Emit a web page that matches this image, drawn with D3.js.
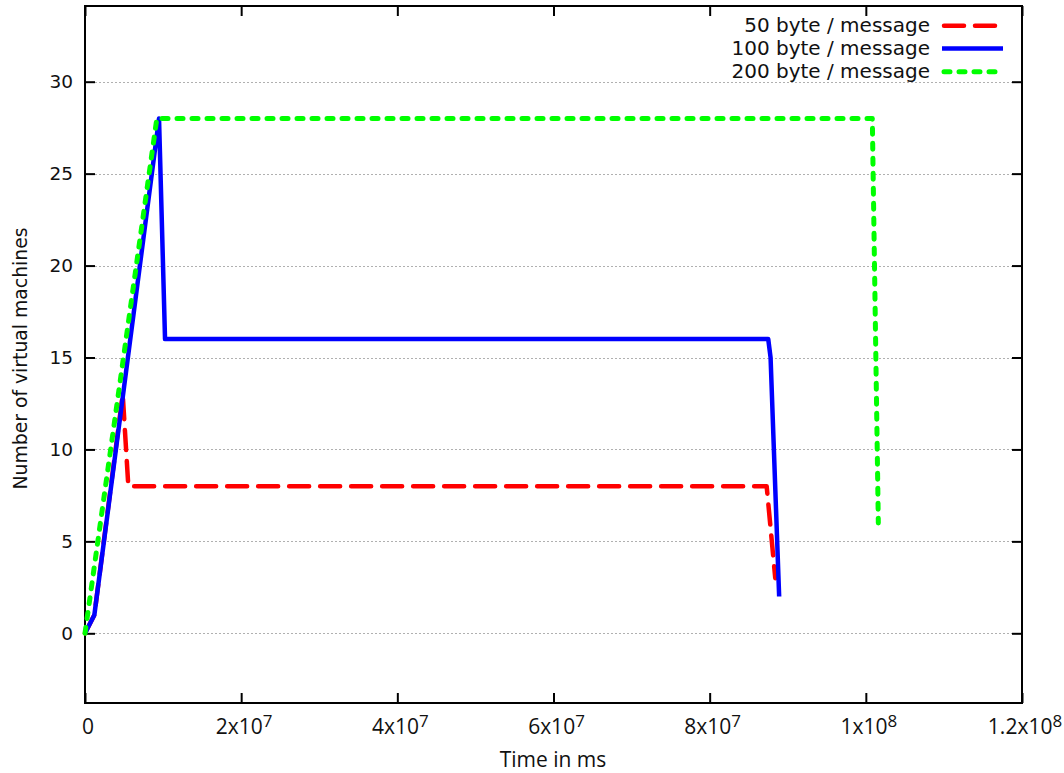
<!DOCTYPE html>
<html>
<head>
<meta charset="utf-8">
<script src="https://cdn.jsdelivr.net/npm/d3@7"></script>
<style>
  html, body { margin: 0; padding: 0; background: #fff; overflow: hidden; }
  svg { display: block; }
  .ytick { font-family: "DejaVu Sans", sans-serif; font-size: 18.5px; fill: #111; }
  .xtick { font-family: "Open Sans", "Noto Sans", sans-serif; font-size: 21px; fill: #111; }
  .legend { font-family: "DejaVu Sans", sans-serif; font-size: 20px; fill: #111; }
  .ylabel { font-family: "DejaVu Sans", sans-serif; font-size: 18.8px; fill: #111; }
  .xlabel { font-family: "Open Sans", "Noto Sans", sans-serif; font-size: 21px; fill: #111; }
</style>
</head>
<body>
<script>
// Time (ms) and number of running VMs for each message size
const time50  = [0, 1.2e6, 4.83e6, 5.55e6, 8.73e7, 8.84e7];
const vms50   = [0, 1, 13, 8, 8, 3];
const time100 = [0, 1.2e6, 9.48e6, 1.025e7, 8.75e7, 8.78e7, 8.89e7];
const vms100  = [0, 1, 28, 16, 16, 15, 2];
const time200 = [0, 9.2e6, 1.0083e8, 1.016e8];
const vms200  = [0, 28, 28, 6];

const seriesNames = ["50 byte / message", "100 byte / message", "200 byte / message"];
const xTicks = [0, 2e7, 4e7, 6e7, 8e7, 1e8, 1.2e8];
const xTickLabels = [["0", ""], ["2x10", "7"], ["4x10", "7"], ["6x10", "7"], ["8x10", "7"], ["1x10", "8"], ["1.2x10", "8"]];
const yTicks = [0, 5, 10, 15, 20, 25, 30];

const W = 1064, H = 773;
const frame = { left: 85, right: 1022, top: 6, bottom: 703 };

const svg = d3.select("body").append("svg").attr("width", W).attr("height", H);

const x = d3.scaleLinear().domain([0, 1.2e8]).range([frame.left, frame.right]);
const y = d3.scaleLinear().domain([0, 30]).range([633.3, 81.7]);

// horizontal dotted grid
svg.append("g").selectAll("line").data(yTicks).join("line")
  .attr("x1", frame.left + 10).attr("x2", frame.right - 10)
  .attr("y1", d => Math.round(y(d)) + 0.5).attr("y2", d => Math.round(y(d)) + 0.5)
  .attr("stroke", "#b0b0b0").attr("stroke-width", 1).attr("stroke-dasharray", "2,2");

// axes: ticks point inward, mirrored on the opposite sides
const gAxes = svg.append("g");
const yLeft = d3.axisRight(y).tickValues(yTicks).tickSize(10).tickFormat("");
const yRight = d3.axisLeft(y).tickValues(yTicks).tickSize(10).tickFormat("");
const xBottom = d3.axisTop(x).tickValues(xTicks).tickSize(10).tickFormat("");
const xTop = d3.axisBottom(x).tickValues(xTicks).tickSize(10).tickFormat("");
[[yLeft, `translate(${frame.left},0)`], [yRight, `translate(${frame.right},0)`],
 [xBottom, `translate(0,${frame.bottom})`], [xTop, `translate(0,${frame.top})`]].forEach(([ax, tr]) => {
  const g = gAxes.append("g").attr("transform", tr).call(ax);
  g.select(".domain").remove();
  g.selectAll("line").attr("stroke", "#000").attr("stroke-width", 2);
});

// frame
svg.append("rect")
  .attr("x", frame.left).attr("y", frame.top)
  .attr("width", frame.right - frame.left).attr("height", frame.bottom - frame.top)
  .attr("fill", "none").attr("stroke", "#000").attr("stroke-width", 2);

// y tick labels
svg.append("g").selectAll("text").data(yTicks).join("text")
  .attr("class", "ytick")
  .attr("x", frame.left - 12).attr("y", d => y(d)).attr("dy", "0.36em")
  .attr("text-anchor", "end").text(d => d);

// x tick labels with superscript exponent
const xl = svg.append("g").selectAll("text").data(xTicks).join("text")
  .attr("class", "xtick")
  .attr("x", d => x(d) + 3).attr("y", 734)
  .attr("text-anchor", "middle");
xl.each(function(d, i) {
  const t = d3.select(this);
  t.append("tspan").text(xTickLabels[i][0]);
  if (xTickLabels[i][1]) {
    t.append("tspan").attr("dy", -7).attr("font-size", "17px").text(xTickLabels[i][1]);
  }
});

// axis titles
svg.append("text").attr("class", "xlabel")
  .attr("x", 553).attr("y", 767)
  .attr("text-anchor", "middle").text("Time in ms");
svg.append("text").attr("class", "ylabel")
  .attr("transform", `translate(27,358.5) rotate(-90)`)
  .attr("text-anchor", "middle").text("Number of virtual machines");

// series
const styles = [
  { color: "#ff0000", dash: "20,11", width: 4.5 },
  { color: "#0000ff", dash: null, width: 4.5 },
  { color: "#00ff00", dash: "6,9", width: 5 }
];
const series = [
  d3.zip(time50, vms50),
  d3.zip(time100, vms100),
  d3.zip(time200, vms200)
];
const line = d3.line().x(d => x(d[0])).y(d => y(d[1]));

series.forEach((pts, i) => {
  const s = styles[i];
  svg.append("path").datum(pts)
    .attr("d", line)
    .attr("fill", "none")
    .attr("stroke", s.color)
    .attr("stroke-width", s.width)
    .attr("stroke-linejoin", "round")
    .attr("stroke-linecap", s.dash ? "round" : "butt")
    .attr("stroke-dasharray", s.dash);
});

// legend
const leg = svg.append("g");
const legendRows = [25.7, 48.5, 71.7];
seriesNames.forEach((name, i) => {
  const ly = legendRows[i];
  leg.append("text").attr("class", "legend")
    .attr("x", 930).attr("y", ly).attr("dy", "0.3em")
    .attr("text-anchor", "end").text(name);
  const s = styles[i];
  leg.append("line")
    .attr("x1", s.dash ? 944 : 942).attr("x2", s.dash ? 998 : 1003).attr("y1", ly).attr("y2", ly)
    .attr("stroke", s.color).attr("stroke-width", s.width)
    .attr("stroke-linecap", s.dash ? "round" : "butt")
    .attr("stroke-dasharray", s.dash);
});
</script>
</body>
</html>
